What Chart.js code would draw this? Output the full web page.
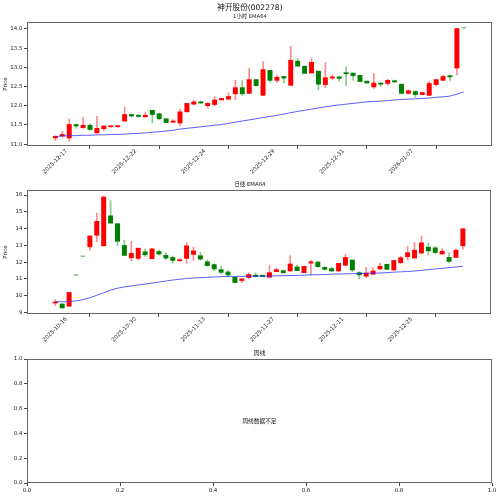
<!DOCTYPE html>
<html><head><meta charset="utf-8">
<script src="https://cdn.jsdelivr.net/npm/chart.js@4/dist/chart.umd.min.js"></script>
<style>
html,body{margin:0;padding:0;background:#fff;}
#wrap{position:relative;width:500px;height:497px;overflow:hidden;font-family:"DejaVu Sans","Noto Sans CJK SC",sans-serif;color:#111;}
canvas{position:absolute;left:0;}
.t{position:absolute;white-space:nowrap;line-height:1;transform:translate(-50%,-50%);z-index:5;}
</style></head><body>
<div id="wrap">
<canvas id="c1" width="500" height="190" style="top:0px"></canvas>
<canvas id="c2" width="500" height="165" style="top:185px"></canvas>
<canvas id="c3" width="500" height="147" style="top:350px"></canvas>
<div class="t" style="left:250px;top:7.5px;font-size:7.6px">神开股份(002278)</div>
<div class="t" style="left:250px;top:16.5px;font-size:5.3px">1小时 EMA64</div>
<div class="t" style="left:250px;top:185px;font-size:5.4px">日线 EMA64</div>
<div class="t" style="left:259.5px;top:353px;font-size:6px">周线</div>
<div class="t" style="left:259.5px;top:421.7px;font-size:5.7px">周线数据不足</div>
</div>
<script>
// ---------- 1 hour data ----------
const hourTickLabels = ['2025-12-17','2025-12-22','2025-12-24','2025-12-29','2025-12-31','2026-01-07',''];
const hourOpen  = [11.16,11.21,11.16,11.51,11.43,11.49,11.29,11.40,11.45,11.45,11.60,11.77,11.75,11.71,11.88,11.79,11.66,11.57,11.55,11.84,12.04,12.10,12.00,12.03,12.15,12.17,12.31,12.47,12.32,12.68,12.27,12.92,12.66,12.76,12.53,13.16,13.03,12.85,12.90,12.55,12.72,12.75,12.86,12.85,12.79,12.64,12.49,12.59,12.58,12.65,12.56,12.32,12.37,12.29,12.27,12.55,12.66,12.78,12.98,14.02];
const hourClose = [11.20,11.25,11.51,11.47,11.49,11.38,11.41,11.47,11.47,11.48,11.77,11.73,11.72,11.75,11.77,11.66,11.56,11.60,11.84,12.06,12.10,12.07,12.06,12.15,12.19,12.24,12.47,12.31,12.68,12.52,12.94,12.66,12.74,12.72,13.18,13.03,12.84,13.13,12.56,12.73,12.75,12.71,12.83,12.78,12.63,12.59,12.59,12.56,12.66,12.62,12.32,12.39,12.29,12.34,12.58,12.68,12.76,12.75,14.01,14.02];
const hourHigh  = [11.22,11.33,11.66,11.53,11.70,11.53,11.72,11.49,11.49,11.49,11.97,11.79,11.77,11.83,11.88,11.81,11.66,11.64,11.91,12.06,12.14,12.12,12.09,12.24,12.20,12.34,12.66,12.65,12.98,12.68,13.15,12.92,12.80,12.76,13.55,13.23,13.03,13.23,12.90,13.12,12.80,12.77,13.01,12.85,12.79,12.64,12.84,12.59,12.69,12.67,12.56,12.42,12.39,12.35,12.63,12.68,12.80,12.80,14.01,14.02];
const hourLow   = [11.09,11.18,11.07,11.41,11.41,11.36,11.29,11.34,11.44,11.44,11.59,11.71,11.70,11.70,11.55,11.64,11.56,11.55,11.47,11.84,12.02,12.06,11.94,12.00,12.14,12.16,12.16,12.26,12.32,12.52,12.27,12.61,12.60,12.59,12.53,13.03,12.84,12.85,12.41,12.47,12.68,12.64,12.52,12.66,12.62,12.59,12.45,12.50,12.53,12.60,12.30,12.30,12.22,12.28,12.26,12.52,12.66,12.66,12.80,14.02];
const hourEma   = [11.20,11.21,11.22,11.22,11.23,11.23,11.24,11.24,11.25,11.25,11.26,11.27,11.28,11.29,11.31,11.32,11.34,11.36,11.39,11.41,11.43,11.45,11.47,11.49,11.51,11.54,11.57,11.60,11.63,11.66,11.69,11.72,11.75,11.78,11.82,11.85,11.88,11.91,11.94,11.97,12.00,12.02,12.04,12.06,12.08,12.10,12.11,12.12,12.13,12.15,12.16,12.17,12.18,12.19,12.20,12.22,12.23,12.25,12.30,12.36];
const hourYTicks = [11.0,11.5,12.0,12.5,13.0,13.5,14.0];

// ---------- daily data ----------
const dayTickLabels = ['2025-10-16','2025-10-30','2025-11-13','2025-11-27','2025-12-11','2025-12-25',''];
const dayOpen  = [9.56,9.50,9.37,11.20,12.32,12.91,13.60,12.97,14.76,14.29,12.99,12.26,12.22,12.61,12.20,12.63,12.40,12.28,12.08,12.22,12.46,12.38,12.02,11.85,11.55,11.41,11.10,10.90,11.08,11.22,11.22,11.10,11.43,11.49,11.47,11.71,11.37,11.94,12.00,11.69,11.61,11.47,11.81,12.12,11.37,11.16,11.28,11.59,11.87,11.53,11.96,12.32,12.24,12.54,12.89,12.85,12.48,12.28,12.28,12.97];
const dayClose = [9.62,9.27,10.19,11.20,12.32,13.56,14.43,15.88,14.33,13.24,12.40,12.52,12.83,12.44,12.79,12.48,12.24,12.10,12.14,12.97,12.67,12.18,11.79,11.59,11.39,11.24,10.78,11.00,11.26,11.14,11.14,11.37,11.55,11.37,11.89,11.49,11.75,12.02,11.73,11.57,11.47,11.93,12.28,11.53,11.24,11.35,11.47,11.75,11.57,12.10,12.26,12.56,12.71,13.15,12.67,12.57,12.65,12.04,12.71,13.99];
const dayHigh  = [9.76,9.52,10.19,11.20,12.32,13.56,14.92,15.95,15.67,14.29,13.30,13.24,12.83,12.79,12.79,12.71,12.57,12.36,12.20,13.17,12.91,12.58,12.12,11.89,11.75,11.51,11.10,11.00,11.36,11.36,11.22,11.83,11.65,11.53,12.38,11.83,11.75,12.10,12.06,11.73,11.69,11.93,12.48,12.12,11.43,11.69,11.67,11.93,11.87,12.10,12.36,12.95,13.17,13.56,13.15,12.91,12.81,12.56,12.77,13.99];
const dayLow   = [9.40,9.24,9.35,11.20,12.32,12.71,13.21,12.97,14.29,12.97,12.40,12.08,12.12,12.34,12.20,12.42,12.16,11.93,12.06,11.93,12.10,12.12,11.75,11.49,11.29,11.14,10.78,10.78,11.00,11.10,11.12,11.10,11.43,11.33,11.47,11.49,11.37,11.24,11.69,11.53,11.45,11.47,11.81,11.43,11.00,11.08,11.24,11.53,11.57,11.53,11.92,12.12,12.24,12.48,12.42,12.51,12.48,11.98,12.28,12.77];
const dayEma   = [9.64,9.63,9.64,9.69,9.76,9.87,10.02,10.17,10.33,10.44,10.52,10.58,10.64,10.69,10.75,10.81,10.87,10.93,10.98,11.02,11.05,11.07,11.09,11.11,11.13,11.15,11.15,11.15,11.16,11.16,11.16,11.17,11.18,11.19,11.20,11.21,11.22,11.24,11.25,11.26,11.28,11.29,11.30,11.31,11.32,11.33,11.34,11.35,11.37,11.40,11.42,11.44,11.47,11.51,11.55,11.59,11.63,11.67,11.71,11.75];
const dayYTicks = [9,10,11,12,13,14,15,16];

// ---------- weekly (empty) ----------
const unitTicks = [0,0.2,0.4,0.6,0.8,1.0];

const FONT = '"DejaVu Sans","Noto Sans CJK SC",sans-serif';
const TXT = '#222', TICK = '#444';
const FS = 5.5;

const frame = {id:'frame', afterDraw(c){
  const a=c.chartArea, x=c.ctx; x.save(); x.strokeStyle='#666'; x.lineWidth=1;
  x.strokeRect(Math.round(a.left)+0.5, Math.round(a.top)+0.5, Math.round(a.right-a.left)-1, Math.round(a.bottom-a.top)-1);
  x.restore();
}};

function xTickIdx(n){ const r=[]; for(let v=0; v<=n; v+=10) r.push({value:v}); return r; }

function candle(id, tickLabels, O, C, H, L, E, yTicks, yMin, yMax, yFmt, padTop, padRight, axisH){
  const idx = O.map((_, i) => i);
  const bodyCol = idx.map(i => C[i] > O[i] ? 'rgb(255,0,0)' : (C[i] < O[i] ? 'rgb(0,128,0)' : 'rgba(0,128,0,0.4)'));
  const wickCol = idx.map(i => C[i] > O[i] ? 'rgba(255,0,0,0.45)' : 'rgba(0,128,0,0.45)');
  new Chart(document.getElementById(id), {
    type:'bar',
    data:{datasets:[
      {type:'line', data: idx.map(i=>({x:i, y:E[i]})), borderColor:'rgba(40,40,255,0.75)', borderWidth:1, pointRadius:0, tension:0, order:0},
      {type:'bar', data: idx.map(i=>({x:i, y:[O[i], C[i]]})), backgroundColor: bodyCol, barThickness:4.3, minBarLength:1, grouped:false, order:1},
      {type:'bar', data: idx.map(i=>({x:i, y:[L[i], H[i]]})), backgroundColor: wickCol, barThickness:1, grouped:false, order:2}
    ]},
    options:{
      responsive:false, animation:false, events:[],
      layout:{padding:{left:0,right:padRight,top:padTop,bottom:0}},
      plugins:{legend:{display:false}, tooltip:{enabled:false}},
      scales:{
        x:{type:'linear', min:-4.1, max:63.07, offset:false,
          afterBuildTicks: s => { s.ticks = xTickIdx(60); },
          afterFit: s => { s.height = axisH; s.paddingLeft = 0; s.paddingRight = 0; },
          grid:{drawOnChartArea:false, drawTicks:true, tickLength:3, tickColor:TICK},
          border:{display:false},
          ticks:{autoSkip:false, maxRotation:45, minRotation:45, padding:-1, labelOffset:11, color:TXT, font:{size:FS, family:FONT},
            callback: v => (tickLabels[Math.round(v/10)] ?? '')}
        },
        y:{type:'linear', min:yMin, max:yMax,
          afterBuildTicks: s => { s.ticks = yTicks.map(v=>({value:v})); },
          afterFit: s => { s.width = 27; s.paddingTop = 0; s.paddingBottom = 0; },
          grid:{drawOnChartArea:false, drawTicks:true, tickLength:3, tickColor:TICK},
          border:{display:false},
          title:{display:true, text:'Price', color:TXT, font:{size:FS, family:FONT}, padding:{top:2,bottom:0}},
          ticks:{padding:1.5, color:TXT, font:{size:FS, family:FONT}, callback: v => yFmt(v)}
        }
      }
    },
    plugins:[frame]
  });
}

candle('c1', hourTickLabels, hourOpen, hourClose, hourHigh, hourLow, hourEma, hourYTicks, 10.95, 14.18, v=>v.toFixed(1), 22, 8, 44);
candle('c2', dayTickLabels, dayOpen, dayClose, dayHigh, dayLow, dayEma, dayYTicks, 8.905, 16.30, v=>String(Math.round(v)), 5, 9, 36);

new Chart(document.getElementById('c3'), {
  type:'scatter',
  data:{datasets:[]},
  options:{
    responsive:false, animation:false, events:[],
    layout:{padding:{left:0,right:8,top:9,bottom:0}},
    plugins:{legend:{display:false}, tooltip:{enabled:false}},
    scales:{
      x:{type:'linear', min:0, max:1,
        afterBuildTicks: s => { s.ticks = unitTicks.map(v=>({value:v})); },
        afterFit: s => { s.height = 14; s.paddingLeft = 0; s.paddingRight = 0; },
        grid:{drawOnChartArea:false, drawTicks:true, tickLength:3, tickColor:TICK},
        border:{display:false},
        ticks:{maxRotation:0, minRotation:0, padding:1, color:TXT, font:{size:FS, family:FONT}, callback: v => v.toFixed(1)}
      },
      y:{type:'linear', min:0, max:1,
        afterBuildTicks: s => { s.ticks = unitTicks.map(v=>({value:v})); },
        afterFit: s => { s.width = 27; s.paddingTop = 0; s.paddingBottom = 0; },
        grid:{drawOnChartArea:false, drawTicks:true, tickLength:3, tickColor:TICK},
        border:{display:false},
        ticks:{padding:1.5, color:TXT, font:{size:FS, family:FONT}, callback: v => v.toFixed(1)}
      }
    }
  },
  plugins:[frame]
});
</script>
</body></html>
